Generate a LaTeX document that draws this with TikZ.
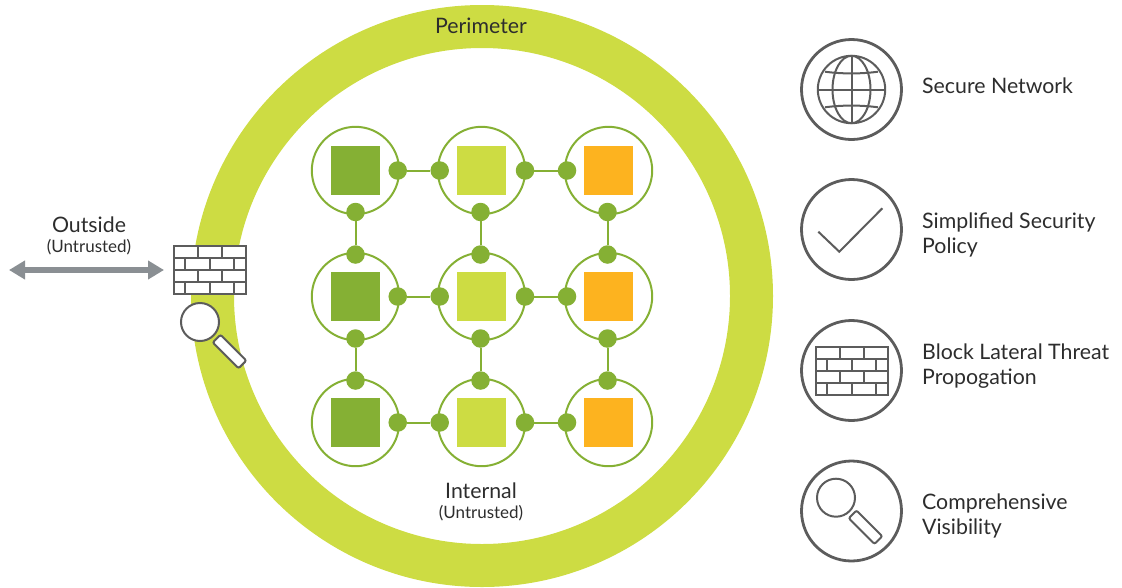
\documentclass[tikz,border=0pt]{standalone}
\usepackage{fontspec}
\setmainfont{Lato}
\usepackage{xcolor}
\usetikzlibrary{arrows.meta, positioning}
\definecolor{mylime}{RGB}{205, 220, 67}
\definecolor{mygreen}{RGB}{133, 176, 52}
\definecolor{myorange}{RGB}{253, 179, 31}
\definecolor{mygray}{RGB}{138, 143, 147}
\definecolor{myicon}{RGB}{92, 92, 92}
\definecolor{mytext}{RGB}{45, 45, 45}
\tikzset{
    cell/.style={circle, draw=mygreen, line width=2pt, minimum size=87.4pt, inner sep=0pt, outer sep=0pt},
    port/.style={circle, fill=mygreen, minimum size=18.5pt, inner sep=0pt, outer sep=0pt},
    box/.style={rectangle, minimum size=49pt, inner sep=0pt, outer sep=0pt},
    link/.style={draw=mygreen, line width=2pt},
    badge/.style={circle, draw=myicon, line width=2.8pt, minimum size=100pt, inner sep=0pt, outer sep=0pt},
    iconline/.style={draw=myicon, line width=2pt},
    title/.style={font=\fontsize{21.3}{25}\selectfont, text=mytext, align=left, anchor=west, inner sep=0pt},
    label/.style={font=\fontsize{21.3}{25}\selectfont, text=mytext, inner sep=0pt},
    sublabel/.style={font=\fontsize{17}{20}\selectfont, text=mytext, inner sep=0pt},
    wall/.pic={
        \draw[iconline, fill=white] (0,0) rectangle (72,48);
        \draw[iconline] (0,12) -- (72,12) (0,24) -- (72,24) (0,36) -- (72,36);
        \draw[iconline] (24,0) -- (24,12) (48,0) -- (48,12);
        \draw[iconline] (11,12) -- (11,24) (36,12) -- (36,24) (60,12) -- (60,24);
        \draw[iconline] (24,24) -- (24,36) (48,24) -- (48,36);
        \draw[iconline] (11,36) -- (11,48) (36,36) -- (36,48) (60,36) -- (60,48);
    },
    lens/.pic={
        \draw[iconline, fill=white] (0,0) circle (19);
        \draw[iconline, fill=white, rounded corners=2pt, rotate=-45] (23.5,-5.5) rectangle (60,5.5);
    },
}
\begin{document}
\begin{tikzpicture}[x=1pt, y=-1pt]
    \useasboundingbox (0,0) rectangle (1122,587);

    % perimeter ring
    \fill[mylime, even odd rule] (482,296) circle (291) (482,296) circle (248);
    \node[label] (perimeter) at (481,26) {Perimeter};

    % first row
    \node[cell] (c11) at (355.5,170.5) {};
    \node[cell] (c12) at (481.5,170.5) {};
    \node[cell] (c13) at (608.5,170.5) {};
    \node[box, fill=mygreen] (b11) at (c11) {};
    \node[box, fill=mylime] (b12) at (c12) {};
    \node[box, fill=myorange] (b13) at (c13) {};

    % second row
    \node[cell] (c21) at (355.5,296.5) {};
    \node[cell] (c22) at (481.5,296.5) {};
    \node[cell] (c23) at (608.5,296.5) {};
    \node[box, fill=mygreen] (b21) at (c21) {};
    \node[box, fill=mylime] (b22) at (c22) {};
    \node[box, fill=myorange] (b23) at (c23) {};

    % third row
    \node[cell] (c31) at (355.5,422.5) {};
    \node[cell] (c32) at (481.5,422.5) {};
    \node[cell] (c33) at (608.5,422.5) {};
    \node[box, fill=mygreen] (b31) at (c31) {};
    \node[box, fill=mylime] (b32) at (c32) {};
    \node[box, fill=myorange] (b33) at (c33) {};

    % ports, across
    \node[port] (p11r) at (397.7,170.5) {};
    \node[port] (p12l) at (439.7,170.5) {};
    \node[port] (p12r) at (525,170.5) {};
    \node[port] (p13l) at (567,170.5) {};
    \node[port] (p21r) at (397.7,296.5) {};
    \node[port] (p22l) at (439.7,296.5) {};
    \node[port] (p22r) at (525,296.5) {};
    \node[port] (p23l) at (567,296.5) {};
    \node[port] (p31r) at (397.7,422.5) {};
    \node[port] (p32l) at (439.7,422.5) {};
    \node[port] (p32r) at (525,422.5) {};
    \node[port] (p33l) at (567,422.5) {};

    % ports, down
    \node[port] (p11b) at (355.5,212) {};
    \node[port] (p21t) at (355.5,254.5) {};
    \node[port] (p12b) at (480.5,212) {};
    \node[port] (p22t) at (480.5,254.5) {};
    \node[port] (p13b) at (607.5,212) {};
    \node[port] (p23t) at (607.5,254.5) {};
    \node[port] (p21b) at (355.5,338.5) {};
    \node[port] (p31t) at (355.5,380.5) {};
    \node[port] (p22b) at (480.5,338.5) {};
    \node[port] (p32t) at (480.5,380.5) {};
    \node[port] (p23b) at (607.5,338.5) {};
    \node[port] (p33t) at (607.5,380.5) {};

    % links
    \draw[link] (p11r) -- (p12l);
    \draw[link] (p12r) -- (p13l);
    \draw[link] (p21r) -- (p22l);
    \draw[link] (p22r) -- (p23l);
    \draw[link] (p31r) -- (p32l);
    \draw[link] (p32r) -- (p33l);
    \draw[link] (p11b) -- (p21t);
    \draw[link] (p12b) -- (p22t);
    \draw[link] (p13b) -- (p23t);
    \draw[link] (p21b) -- (p31t);
    \draw[link] (p22b) -- (p32t);
    \draw[link] (p23b) -- (p33t);

    \node[label] (internal) at (481,491) {Internal};
    \node[sublabel] (internalsub) at (481,513.5) {(Untrusted)};

    % outside
    \node[label] (outside) at (89,225) {Outside};
    \node[sublabel] (outsidesub) at (89,247) {(Untrusted)};
    \coordinate (farleft) at (9,270);
    \coordinate (gate) at (164,270);
    \draw[{Triangle[length=16pt, width=18pt]}-{Triangle[length=16pt, width=18pt]}, mygray, line width=6pt] (farleft) -- (gate);
    \pic at (174,245.5) {wall};
    \pic at (200,322) {lens};

    % legend
    \node[badge] (secure) at (851.5,89.5) {};
    \node[badge] (policy) at (851.5,229.5) {};
    \node[badge] (block) at (851.5,370.5) {};
    \node[badge] (visible) at (851.5,511) {};
    \node[title] (securetext) at (922,86) {Secure Network};
    \node[title] (policytext) at (922,235) {Simplified Security\\Policy};
    \node[title] (blocktext) at (922,366.5) {Block Lateral Threat\\Propogation};
    \node[title] (visibletext) at (922,515.5) {Comprehensive\\Visibility};

    % globe
    \draw[iconline] (851.5,89.5) circle (33.7);
    \draw[iconline] (851.5,89.5) ellipse (19 and 33.7);
    \draw[iconline] (817.8,89.5) -- (885.2,89.5) (851.5,55.8) -- (851.5,123.2);
    \draw[iconline] (825,71.7) .. controls (842,74) and (861,74) .. (878,71.7);
    \draw[iconline] (825,107.3) .. controls (842,105) and (861,105) .. (878,107.3);

    % check
    \draw[iconline] (818.3,231.7) -- (839.3,251.7) -- (882.3,208.3);

    \pic at (816,346.5) {wall};
    \pic at (836,497.7) {lens};
\end{tikzpicture}
\end{document}
